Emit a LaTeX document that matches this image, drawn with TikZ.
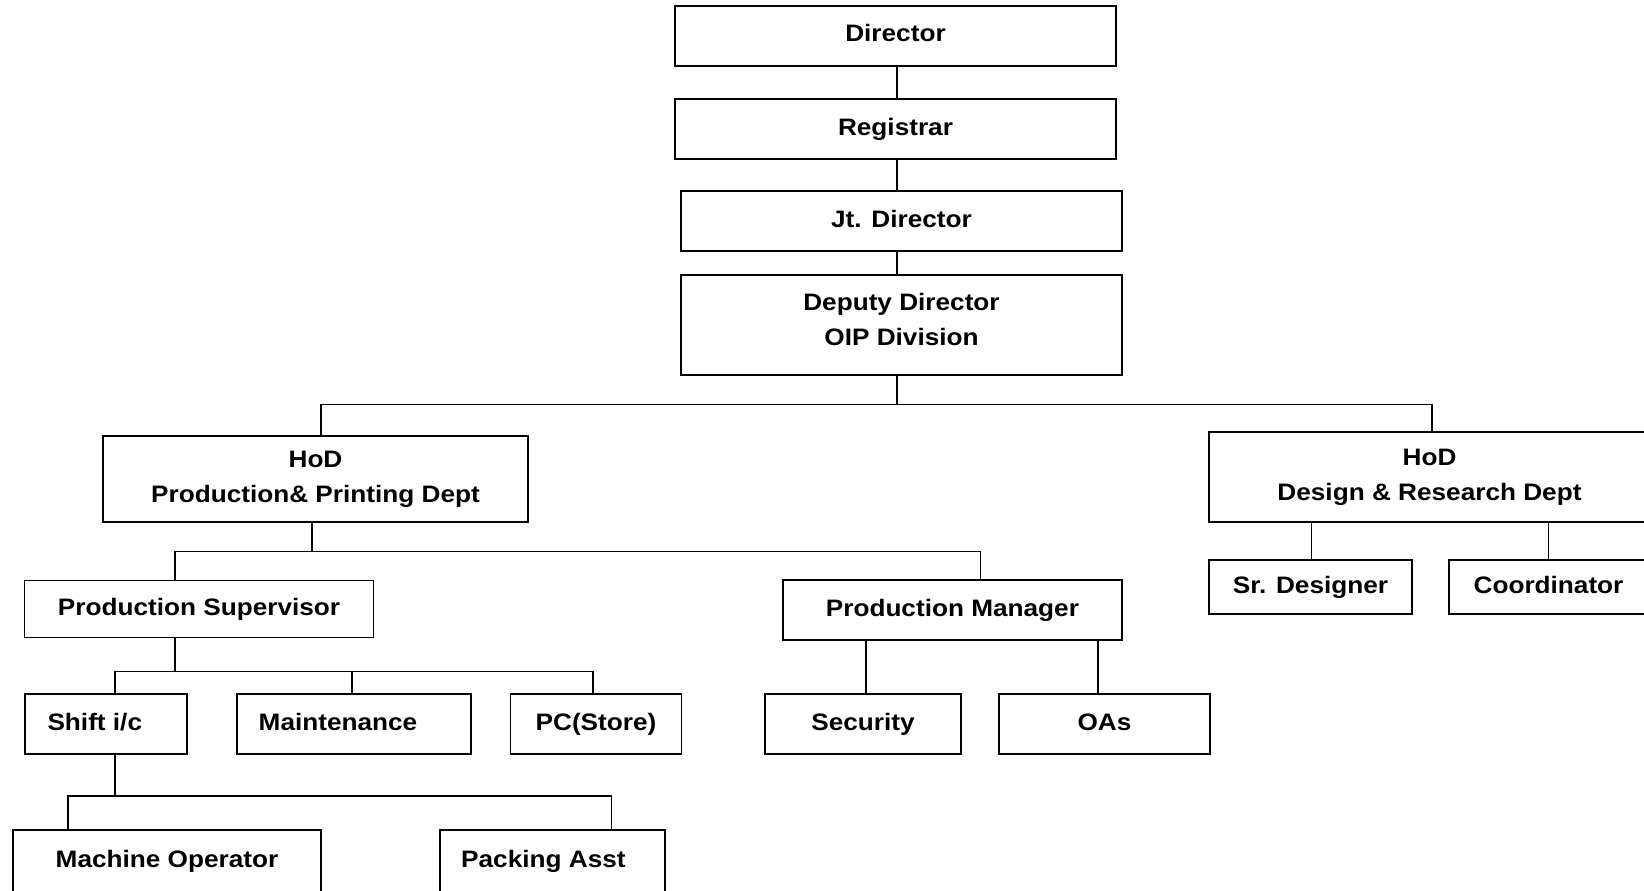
\documentclass[tikz,border=0pt]{standalone}
\usepackage{fontspec}
\setmainfont{Liberation Sans}[FakeStretch=1.1]
\usetikzlibrary{positioning}

\begin{document}
\begin{tikzpicture}[x=1pt,y=-1pt,font=\fontsize{23.8}{35}\selectfont\bfseries]
  \tikzset{orgbox/.style={draw=black,line width=1.9pt,inner sep=0pt,align=center}}
  \tikzset{onebox/.style={orgbox,text height=17pt,text depth=5pt}}
  \tikzset{link/.style={draw=black,line width=1.5pt}}
  \useasboundingbox (0,0) rectangle (1644,891);
  \coordinate (spine) at (897,0);

  % Top chain
  \node[onebox,minimum width=441pt,minimum height=60pt] (dir) at (895.5,36) {Director};
  \node[onebox,minimum width=441pt,minimum height=60pt] (reg) at (895.5,129) {Registrar};
  \node[onebox,minimum width=441pt,minimum height=60pt] (jtd) at (901.5,221) {Jt. Director};
  \node[orgbox,minimum width=441pt,minimum height=100pt,text depth=12pt] (dep) at (901.5,325) {Deputy Director\\OIP Division};

  % Departments
  \node[orgbox,minimum width=425pt,minimum height=86pt] (hodp) at (315.5,479) {HoD\\Production\& Printing Dept};
  \node[orgbox,minimum width=441pt,minimum height=90pt] (hodd) at (1429.5,477) {HoD\\Design \& Research Dept};

  % Second level
  \node[onebox,minimum width=349pt,minimum height=57pt] (sup) at (199,609) {Production Supervisor};
  \node[onebox,minimum width=339pt,minimum height=60pt] (mgr) at (952.4,610) {Production Manager};
  \node[onebox,minimum width=203pt,minimum height=54pt] (srd) at (1310.5,587) {Sr. Designer};
  \node[onebox,minimum width=199pt,minimum height=54pt] (crd) at (1548.5,587) {Coordinator};

  % Third level
  \node[onebox,minimum width=162pt,minimum height=60pt] (sft) at (105.8,724) {Shift i/c\hspace{22pt}};
  \node[onebox,minimum width=234.5pt,minimum height=60pt] (mnt) at (354,724) {Maintenance\hspace{32pt}};
  \node[onebox,minimum width=171pt,minimum height=60pt] (pcs) at (596,724) {PC(Store)};
  \node[onebox,minimum width=196pt,minimum height=60pt] (sec) at (863,724) {Security};
  \node[onebox,minimum width=211pt,minimum height=60pt] (oas) at (1104.5,724) {OAs};

  % Bottom level
  \node[onebox,minimum width=308pt,minimum height=63pt] (mop) at (167,861.5) {Machine Operator};
  \node[onebox,minimum width=225.3pt,minimum height=63pt] (pack) at (552.4,861.5) {Packing Asst\hspace{18pt}};

  % Links
  \draw[link] (dir.south -| spine) -- (reg.north -| spine);
  \draw[link] (reg.south -| spine) -- (jtd.north -| spine);
  \draw[link] (jtd.south -| spine) -- (dep.north -| spine);
  \draw[link] (dep.south -| spine) -- ++(0,28.5) -| ([xshift=5.5pt]hodp.north);
  \draw[link] (dep.south -| spine) -- ++(0,28.5) -| ([xshift=2.5pt]hodd.north);

  \draw[link] ([xshift=-3.7pt]hodp.south) -- ++(0,28.5) -| ([xshift=-24pt]sup.north);
  \draw[link] ([xshift=-3.7pt]hodp.south) -- ++(0,28.5) -| ([xshift=28pt]mgr.north);

  \draw[link] ([xshift=-24pt]sup.south) -- ++(0,33) -| ([xshift=9pt]sft.north);
  \draw[link] ([xshift=-24pt]sup.south) -- ++(0,33) -| ([xshift=-2pt]mnt.north);
  \draw[link] ([xshift=-24pt]sup.south) -- ++(0,33) -| ([xshift=-3pt]pcs.north);

  \draw[link] ([xshift=3pt]sec.north) -- ([xshift=3pt]sec.north |- mgr.south);
  \draw[link] ([xshift=-6.5pt]oas.north) -- ([xshift=-6.5pt]oas.north |- mgr.south);

  \draw[link] ([xshift=1pt]srd.north) -- ([xshift=1pt]srd.north |- hodd.south);
  \draw[link] (crd.north) -- (crd.north |- hodd.south);

  \draw[link] ([xshift=9pt]sft.south) -- ++(0,41) -| ([xshift=-99pt]mop.north);
  \draw[link] ([xshift=9pt]sft.south) -- ++(0,41) -| ([xshift=59pt]pack.north);
\end{tikzpicture}
\end{document}
